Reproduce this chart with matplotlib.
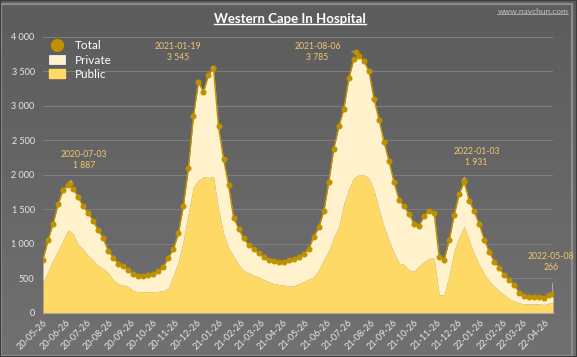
import matplotlib
matplotlib.use("Agg")
import matplotlib.pyplot as plt
import matplotlib.dates as mdates
from matplotlib.lines import Line2D
from matplotlib.patches import Patch, Rectangle
import numpy as np
import pandas as pd

plt.rcParams['font.family'] = ['Lato', 'DejaVu Sans']

# weekly readings from 2020-05-26, last one on 2022-05-08
dates = list(pd.date_range('2020-05-26', '2022-05-03', freq='7D')) + [pd.Timestamp('2022-05-08')]

total = [770, 1050, 1290, 1570, 1780, 1850, 1800, 1680, 1540, 1450,
         1330, 1200, 1080, 900, 800, 710, 680, 620, 560, 535,
         535, 545, 560, 600, 660, 800, 920, 1150, 1550, 2100,
         2850, 3350, 3200, 3450, 3545, 2700, 2230, 1850, 1380, 1220,
         1080, 985, 920, 865, 810, 765, 745, 740, 740, 760,
         780, 805, 850, 930, 1100, 1240, 1470, 1900, 2380, 2700,
         2960, 3400, 3680, 3720, 3650, 3500, 3100, 2800, 2480, 2200,
         1890, 1640, 1540, 1430, 1290, 1260, 1400, 1480, 1450, 810,
         770, 1050, 1420, 1720, 1900, 1620, 1470, 1280, 1060, 880,
         740, 650, 540, 470, 400, 290, 240, 230, 230, 225,
         215, 250, 266]

public = [450, 600, 760, 900, 1050, 1200, 1150, 990, 920, 830,
          760, 680, 640, 580, 480, 420, 400, 380, 320, 305,
          305, 305, 305, 310, 320, 360, 540, 740, 1050, 1450,
          1820, 1920, 1970, 1960, 1970, 1500, 1150, 940, 820, 700,
          610, 580, 540, 520, 480, 450, 425, 410, 400, 390,
          390, 420, 450, 490, 520, 620, 770, 900, 1100, 1250,
          1580, 1800, 1960, 2000, 2000, 1950, 1780, 1500, 1250, 1050,
          870, 720, 700, 620, 600, 680, 740, 790, 790, 260,
          260, 550, 900, 1100, 1250, 1050, 850, 700, 560, 460,
          380, 310, 260, 200, 170, 140, 130, 125, 130, 125,
          120, 140, 150]

peak_dates = ['2020-07-03', '2021-01-19', '2021-08-06', '2022-01-03', '2022-05-08']
peak_values = [1887, 3545, 3785, 1931, 266]
label_dates = ['2020-07-22', '2020-12-01', '2021-06-13', '2022-01-21', '2022-05-05']
label_values = [2213, 3778, 3778, 2256, 735]

tick_dates = pd.date_range('2020-05-01', '2022-04-01', freq='MS') + pd.Timedelta(days=25)
y_ticks = [0, 500, 1000, 1500, 2000, 2500, 3000, 3500, 4000]

gold = '#bf9000'
cream = '#fff2cc'
yellow = '#ffd966'
label_col = '#f2c76b'
text_col = '#e8e8e8'

fig = plt.figure(figsize=(5.77, 3.57), dpi=100)

# gradient background
bg = fig.add_axes([0, 0, 1, 1], zorder=-10)
grad = np.linspace(0, 1, 256).reshape(-1, 1)
cmap = matplotlib.colors.LinearSegmentedColormap.from_list('bg', ['#5c5c5c', '#727070'])
bg.imshow(grad, aspect='auto', cmap=cmap, extent=[0, 1, 0, 1], origin='upper')
bg.set_xlim(0, 1)
bg.set_ylim(0, 1)
bg.axis('off')
bg.add_patch(Rectangle((0.002, 0.004), 0.99, 0.985, fill=False, edgecolor='#8c8c8c', lw=1.6))
bg.add_patch(Rectangle((0.0, 0.0), 1.0, 1.0, fill=False, edgecolor='#3c3c3c', lw=1.5))

ax = fig.add_axes([0.0745, 0.124, 0.884, 0.773])
ax.set_facecolor('none')

ax.fill_between(dates, 0, public, color=yellow, lw=0, zorder=2)
ax.fill_between(dates, public, total, color=cream, lw=0, zorder=2)
ax.plot(dates, total, color=gold, lw=1.0, marker='o', ms=3.3, zorder=3)
ax.plot(pd.to_datetime(peak_dates), peak_values, 'o', color=gold, ms=3.3, zorder=3)

for d, v, ld, lv in zip(peak_dates, peak_values, label_dates, label_values):
    label = d + '\n' + f'{v:,}'.replace(',', ' ')
    ax.annotate(label, xy=(pd.Timestamp(d), v), xytext=(pd.Timestamp(ld), lv),
                ha='center', va='center', fontsize=6.2, color=label_col, linespacing=1.4,
                arrowprops=dict(arrowstyle='-', color='#b5b5b5', lw=0.7, shrinkA=6, shrinkB=2),
                zorder=5)

ax.set_xlim(pd.Timestamp('2020-05-26'), pd.Timestamp('2022-05-08'))
ax.set_ylim(0, 4000)
ax.set_yticks(y_ticks)
ax.set_yticklabels([f'{v:,}'.replace(',', ' ') for v in y_ticks])
ax.set_xticks(tick_dates)
ax.xaxis.set_major_formatter(mdates.DateFormatter('%y-%m-%d'))
plt.setp(ax.get_xticklabels(), rotation=45, ha='right', rotation_mode='anchor')
ax.tick_params(axis='both', length=0, colors=text_col, labelsize=6.5)
ax.tick_params(axis='x', pad=4)
ax.tick_params(axis='y', pad=6)
ax.grid(axis='y', color='#808080', lw=0.7, zorder=0)
ax.set_axisbelow(True)
for s in ['top', 'right', 'left']:
    ax.spines[s].set_visible(False)
ax.spines['bottom'].set_color('#a8a8a8')
ax.spines['bottom'].set_linewidth(0.8)

handles = [Line2D([], [], marker='o', ls='none', color=gold, ms=8.5),
           Patch(facecolor=cream, edgecolor='white', lw=0.5),
           Patch(facecolor=yellow, edgecolor=yellow)]
leg = ax.legend(handles, ['Total', 'Private', 'Public'], loc='upper left',
                bbox_to_anchor=(0.085, 0.888), bbox_transform=fig.transFigure,
                borderaxespad=0, borderpad=0, frameon=False, fontsize=8.5,
                labelcolor='white', handlelength=1.35, handleheight=0.8,
                labelspacing=0.3, handletextpad=0.85)

title = fig.text(0.502, 0.948, 'Western Cape In Hospital', ha='center', va='center',
                 fontsize=9.5, fontweight='bold', color='white')
site = fig.text(0.985, 0.968, 'www.navchun.com', ha='right', va='center',
                fontsize=6, color='#c4c4c4')

fig.canvas.draw()
r = fig.canvas.get_renderer()
inv = fig.transFigure.inverted()
for t, lw, c in [(title, 1.0, 'white'), (site, 0.5, '#c4c4c4')]:
    bb = t.get_window_extent(r)
    (x0, y0), (x1, y1) = inv.transform([(bb.x0, bb.y0), (bb.x1, bb.y1)])
    fig.add_artist(Line2D([x0, x1], [y0 + 0.002, y0 + 0.002], color=c, lw=lw,
                          transform=fig.transFigure))

fig.savefig('out.png', dpi=100)
